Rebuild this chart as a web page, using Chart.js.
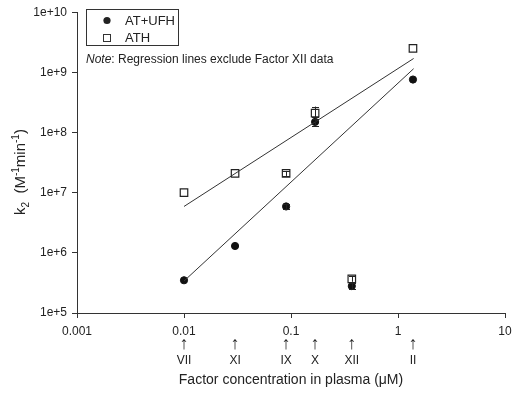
<!DOCTYPE html>
<html>
<head>
<meta charset="utf-8">
<script src="https://cdn.jsdelivr.net/npm/chart.js@4.4.1/dist/chart.umd.min.js"></script>
<style>
  html, body { margin: 0; padding: 0; background: #fff; }
  #wrap { width: 520px; height: 393px; position: relative; }
</style>
</head>
<body>
<div id="wrap"><canvas id="k2-chart"></canvas></div>
<script>
// factor concentrations in plasma (uM) and their names
const factorNames = ['VII', 'XI', 'IX', 'X', 'XII', 'II'];
const factorConc = [0.01, 0.03, 0.09, 0.168, 0.37, 1.38];

// second order rate constants k2 (M-1 min-1)
const atUfh = [3.5e5, 1.3e6, 5.9e6, 1.5e8, 2.8e5, 7.6e8];
const ath = [1.0e7, 2.1e7, 2.1e7, 2.1e8, 3.7e5, 2.5e9];

// error bars [low, high], null where too small to see
const atUfhErr = [null, null, [5.3e6, 6.5e6], [1.3e8, 1.7e8], [2.5e5, 3.1e5], null];
const athErr = [null, null, [1.9e7, 2.3e7], [1.8e8, 2.7e8], [3.3e5, 4.1e5], null];

// regression lines (end points), Factor XII excluded
const fitAtUfhX = [0.01, 1.4];
const fitAtUfhY = [3.4e5, 1.15e9];
const fitAthX = [0.01, 1.4];
const fitAthY = [5.9e6, 1.7e9];

const yTicks = [1e5, 1e6, 1e7, 1e8, 1e9, 1e10];
const xTicks = [0.001, 0.01, 0.1, 1, 10];
const xTickLabels = ['0.001', '0.01', '0.1', '1', '10'];

const FONT = '"Liberation Sans", Arial, sans-serif';
const INK = '#222';

function pts(xs, ys) {
  return xs.map((x, i) => ({ x: x, y: ys[i] }));
}

// error bars, legend box, note, y title and factor arrows
const extras = {
  id: 'extras',
  afterDatasetsDraw(chart) {
    const ctx = chart.ctx;
    const xs = chart.scales.x, ys = chart.scales.y;
    ctx.save();
    ctx.strokeStyle = INK;
    ctx.lineWidth = 1;
    [atUfhErr, athErr].forEach(errs => {
      errs.forEach((e, i) => {
        if (!e) return;
        const px = Math.round(xs.getPixelForValue(factorConc[i])) + 0.5;
        const lo = ys.getPixelForValue(e[0]);
        const hi = ys.getPixelForValue(e[1]);
        ctx.beginPath();
        ctx.moveTo(px, lo); ctx.lineTo(px, hi);
        ctx.moveTo(px - 3.5, Math.round(lo) + 0.5); ctx.lineTo(px + 3.5, Math.round(lo) + 0.5);
        ctx.moveTo(px - 3.5, Math.round(hi) + 0.5); ctx.lineTo(px + 3.5, Math.round(hi) + 0.5);
        ctx.stroke();
      });
    });
    ctx.restore();
  },
  afterDraw(chart) {
    const ctx = chart.ctx;
    const xs = chart.scales.x;
    ctx.save();
    ctx.fillStyle = INK;
    ctx.strokeStyle = '#333';

    // legend box
    ctx.lineWidth = 1;
    ctx.strokeRect(86.5, 9.5, 92, 36);
    ctx.beginPath();
    ctx.arc(107, 20.5, 3.6, 0, Math.PI * 2);
    ctx.fill();
    ctx.strokeRect(103.5, 34.5, 7, 7);
    ctx.font = '13px ' + FONT;
    ctx.textBaseline = 'middle';
    ctx.textAlign = 'left';
    ctx.fillText('AT+UFH', 125, 21);
    ctx.fillText('ATH', 125, 38);

    // note
    ctx.font = 'italic 12px ' + FONT;
    ctx.fillText('Note', 86, 60);
    const w = ctx.measureText('Note').width;
    ctx.font = '12px ' + FONT;
    ctx.fillText(': Regression lines exclude Factor XII data', 86 + w, 60);

    // y axis title with sub/superscripts
    ctx.translate(21, 172);
    ctx.rotate(-Math.PI / 2);
    const parts = [
      ['k', 15, 0], ['2', 10, 5], ['  (M', 15, 0], ['-1', 10, -5],
      ['min', 15, 0], ['-1', 10, -5], [')', 15, 0]
    ];
    let total = 0;
    parts.forEach(p => { ctx.font = p[1] + 'px ' + FONT; total += ctx.measureText(p[0]).width; });
    let cx = -total / 2;
    parts.forEach(p => {
      ctx.font = p[1] + 'px ' + FONT;
      ctx.fillText(p[0], cx, p[2]);
      cx += ctx.measureText(p[0]).width;
    });
    ctx.setTransform(1, 0, 0, 1, 0, 0);

    // factor arrows and names under the x axis
    ctx.textAlign = 'center';
    factorNames.forEach((name, i) => {
      const px = xs.getPixelForValue(factorConc[i]);
      ctx.font = '18px ' + FONT;
      ctx.fillText('\u2191', px, 344);
      ctx.font = '12px ' + FONT;
      ctx.fillText(name, px, 361);
    });
    ctx.restore();
  }
};

const ctx = document.getElementById('k2-chart').getContext('2d');
new Chart(ctx, {
  type: 'scatter',
  data: {
    datasets: [
      {
        label: 'ATH fit',
        type: 'line',
        data: pts(fitAthX, fitAthY),
        borderColor: '#333',
        borderWidth: 1,
        pointRadius: 0,
        fill: false
      },
      {
        label: 'AT+UFH fit',
        type: 'line',
        data: pts(fitAtUfhX, fitAtUfhY),
        borderColor: '#333',
        borderWidth: 1,
        pointRadius: 0,
        fill: false
      },
      {
        label: 'ATH',
        data: pts(factorConc, ath),
        pointStyle: 'rect',
        pointRadius: 5.3,
        backgroundColor: '#fff',
        borderColor: '#222',
        borderWidth: 1.2
      },
      {
        label: 'AT+UFH',
        data: pts(factorConc, atUfh),
        pointStyle: 'circle',
        pointRadius: 3.6,
        backgroundColor: '#111',
        borderColor: '#111',
        borderWidth: 1
      }
    ]
  },
  options: {
    responsive: true,
    maintainAspectRatio: false,
    animation: false,
    layout: { padding: { top: 8, right: 15, left: 0, bottom: 0 } },
    plugins: {
      legend: { display: false },
      tooltip: { enabled: false }
    },
    scales: {
      x: {
        type: 'logarithmic',
        min: 0.001,
        max: 10,
        afterBuildTicks: s => { s.ticks = xTicks.map(v => ({ value: v })); },
        afterFit: s => { s.height = 80; },
        ticks: {
          autoSkip: false,
          maxRotation: 0,
          color: INK,
          padding: 6,
          font: { family: FONT, size: 12 },
          callback: (v, i) => xTickLabels[i]
        },
        grid: { drawOnChartArea: false, tickLength: 5, color: '#333' },
        border: { color: '#333', width: 1 },
        title: {
          display: true,
          text: 'Factor concentration in plasma (\u03bcM)',
          color: INK,
          font: { family: FONT, size: 14 },
          padding: { top: 0, bottom: 4 }
        }
      },
      y: {
        type: 'logarithmic',
        min: 1e5,
        max: 1e10,
        afterBuildTicks: s => { s.ticks = yTicks.map(v => ({ value: v })); },
        afterFit: s => { s.width = 77; },
        ticks: {
          color: INK,
          padding: 5,
          font: { family: FONT, size: 12 },
          callback: v => '1e+' + Math.round(Math.log10(v))
        },
        grid: { drawOnChartArea: false, tickLength: 5, color: '#333' },
        border: { color: '#333', width: 1 }
      }
    }
  },
  plugins: [extras]
});
</script>
</body>
</html>
